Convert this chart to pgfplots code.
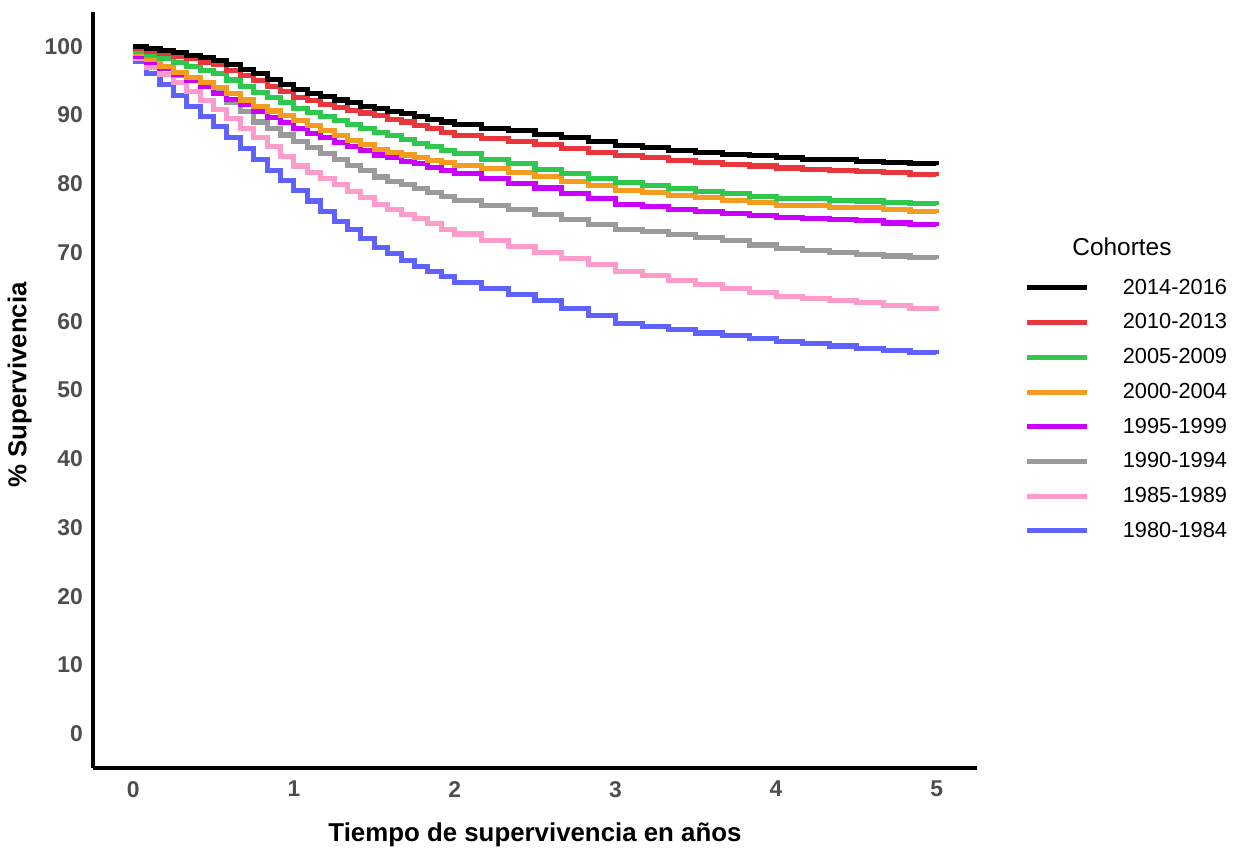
\documentclass[border=0pt]{standalone}
\usepackage{fontspec}
\setmainfont{Liberation Sans}
\usepackage{pgfplots}
\usepackage{pgfplotstable}
\pgfplotsset{compat=1.18}

\definecolor{c1416}{HTML}{000000}
\definecolor{c1013}{HTML}{E8363C}
\definecolor{c0509}{HTML}{2DC84D}
\definecolor{c0004}{HTML}{F39C1F}
\definecolor{c9599}{HTML}{CC00FF}
\definecolor{c9094}{HTML}{9A9A9A}
\definecolor{c8589}{HTML}{FD9BCB}
\definecolor{c8084}{HTML}{6062FF}
\definecolor{tickgray}{HTML}{4D4D4D}

% Kaplan-Meier survival (%) by cohort
\pgfplotstableread{
t      bl    rd    gr    or    pu    gy    pk    bu
0      100.0 99.7  99.3  99.0  98.5  98.8  98.2  97.8
0.083  99.7  99.3  98.7  98.1  97.6  97.8  97.0  96.1
0.167  99.4  99.0  98.2  97.1  96.8  96.8  95.9  94.5
0.250  99.1  98.6  97.6  96.2  95.9  95.8  94.7  92.8
0.333  98.7  98.2  97.1  95.5  95.0  95.0  93.4  91.3
0.417  98.4  97.7  96.5  94.7  94.1  94.2  92.1  89.8
0.500  98.0  97.3  96.0  94.0  93.2  93.4  90.8  88.3
0.583  97.3  96.5  95.1  93.1  92.3  91.9  89.5  86.7
0.667  96.7  95.8  94.2  92.2  91.5  90.5  88.1  85.1
0.750  96.0  95.0  93.3  91.3  90.6  89.0  86.8  83.5
0.833  95.2  94.2  92.5  90.6  89.7  88.0  85.4  82.0
0.917  94.5  93.4  91.8  89.9  88.9  87.1  84.0  80.5
1.000  93.7  92.6  91.0  89.2  88.0  86.1  82.6  79.0
1.083  93.2  92.1  90.4  88.5  87.3  85.3  81.7  77.5
1.167  92.7  91.6  89.8  87.7  86.7  84.4  80.8  76.0
1.250  92.2  91.1  89.2  87.0  86.0  83.6  79.9  74.5
1.333  91.8  90.7  88.6  86.3  85.4  82.7  78.9  73.3
1.417  91.3  90.3  88.1  85.7  84.8  81.9  78.0  72.0
1.500  90.9  89.9  87.5  85.0  84.2  81.0  77.0  70.8
1.583  90.5  89.4  87.0  84.6  83.8  80.4  76.3  69.9
1.667  90.2  89.0  86.4  84.2  83.3  79.9  75.6  68.9
1.750  89.8  88.5  85.9  83.8  82.9  79.3  74.9  68.0
1.833  89.4  88.0  85.4  83.4  82.4  78.7  74.2  67.2
1.917  89.0  87.5  84.9  83.1  82.0  78.2  73.4  66.5
2.000  88.6  87.0  84.4  82.7  81.5  77.6  72.7  65.7
2.167  88.1  86.6  83.6  82.2  80.8  76.9  71.8  64.8
2.333  87.7  86.1  82.9  81.6  80.1  76.2  70.9  63.9
2.500  87.2  85.7  82.1  81.1  79.4  75.5  70.0  63.0
2.667  86.7  85.2  81.5  80.4  78.6  74.8  69.1  61.9
2.833  86.1  84.6  80.8  79.7  77.8  74.1  68.2  60.8
3.000  85.6  84.1  80.2  79.0  77.0  73.4  67.3  59.7
3.167  85.3  83.8  79.8  78.7  76.7  73.0  66.7  59.2
3.333  84.9  83.4  79.3  78.3  76.3  72.6  66.0  58.8
3.500  84.6  83.1  78.9  78.0  76.0  72.2  65.4  58.3
3.667  84.3  82.8  78.6  77.6  75.7  71.7  64.8  57.9
3.833  84.1  82.6  78.2  77.3  75.4  71.1  64.2  57.5
4.000  83.8  82.3  77.9  76.9  75.1  70.6  63.6  57.1
4.167  83.6  82.1  77.8  76.8  74.9  70.3  63.3  56.8
4.333  83.5  82.0  77.6  76.6  74.8  70.0  63.0  56.4
4.500  83.3  81.8  77.5  76.5  74.6  69.7  62.7  56.1
4.667  83.1  81.6  77.3  76.2  74.3  69.5  62.3  55.8
4.833  82.9  81.3  77.1  76.0  74.1  69.3  61.9  55.5
5.000  82.7  81.1  76.9  75.7  73.8  69.1  61.5  55.2
}\km

\begin{document}
\begin{tikzpicture}
\begin{axis}[
  scale only axis, width=17.68cm, height=15.12cm,
  xmin=-0.25, xmax=5.25, ymin=-5, ymax=105,
  axis x line=bottom, axis y line=left,
  axis line style={line width=2.3pt, -},
  xtick={0,1,2,3,4,5}, ytick={0,10,...,100},
  major tick length=0pt,
  /pgf/number format/assume math mode=true,
  tick label style={font=\fontsize{13}{15}\selectfont\bfseries, text=tickgray},
  xticklabel style={yshift=-4pt},
  yticklabel style={xshift=-2.3pt},
  xlabel={Tiempo de supervivencia en años},
  ylabel={\% Supervivencia},
  label style={font=\fontsize{14.7}{17}\selectfont\bfseries},
  xlabel style={at={(axis description cs:0.5,-0.0885)}, anchor=center},
  ylabel style={at={(axis description cs:-0.083,0.507)}, anchor=center},
  clip=false,
  every axis plot/.append style={const plot, line width=2.9pt},
  reverse legend,
  legend image code/.code={\draw[#1, line width=2.8pt] (0cm,0cm) -- (1.2cm,0cm); \path[draw=none] (0cm,0cm) -- (1.85cm,0cm);},
  legend style={at={(axis description cs:1.0532,0.652)}, anchor=north west,
    draw=none, fill=none, inner sep=0pt, row sep=5.6pt,
    font=\fontsize{12.4}{14}\selectfont,
    nodes={inner sep=2pt}},
  legend cell align=left,
]
\addplot[c8084] table[x=t, y=bu] {\km}; \addlegendentry{1980-1984}
\addplot[c8589] table[x=t, y=pk] {\km}; \addlegendentry{1985-1989}
\addplot[c9094] table[x=t, y=gy] {\km}; \addlegendentry{1990-1994}
\addplot[c9599] table[x=t, y=pu] {\km}; \addlegendentry{1995-1999}
\addplot[c0004] table[x=t, y=or] {\km}; \addlegendentry{2000-2004}
\addplot[c0509] table[x=t, y=gr] {\km}; \addlegendentry{2005-2009}
\addplot[c1013] table[x=t, y=rd] {\km}; \addlegendentry{2010-2013}
\addplot[c1416] table[x=t, y=bl] {\km}; \addlegendentry{2014-2016}
\node[font=\fontsize{13.9}{16}\selectfont, anchor=center] at (axis description cs:1.164,0.689) {Cohortes};
\coordinate (bbsw) at (axis description cs:-0.1052,-0.1098);
\coordinate (bbne) at (axis description cs:1.2930,1.0159);
\end{axis}
\pgfresetboundingbox
\path (bbsw) rectangle (bbne);
\end{tikzpicture}
\end{document}
